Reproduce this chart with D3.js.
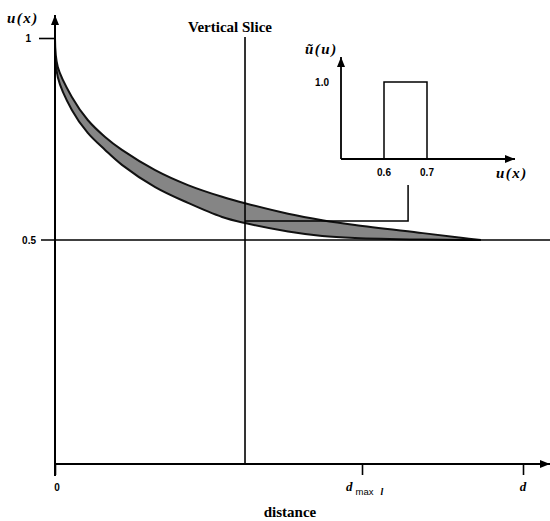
<!DOCTYPE html>
<html>
<head>
<meta charset="utf-8">
<script src="https://cdn.jsdelivr.net/npm/d3@7"></script>
<style>
  body { margin: 0; background: #fff; }
  .serif { font-family: "Liberation Serif", "DejaVu Serif", serif; font-weight: bold; }
  .num { font-family: "Liberation Sans", Arial, sans-serif; font-weight: bold; font-size: 10px; }
  .ital { font-family: "Liberation Serif", serif; font-weight: bold; font-style: italic; }
</style>
</head>
<body>
<svg id="chart" width="550" height="521"></svg>
<script>
// distance along the x axis (0 = origin, 1 = d) and the two bounds of u(x)
const distance = [0, 0.006, 0.036, 0.07, 0.107, 0.143, 0.214, 0.284, 0.357, 0.406, 0.498, 0.571, 0.641, 0.786, 0.872, 0.91];
const upperU = [1, 0.928, 0.854, 0.797, 0.755, 0.723, 0.673, 0.636, 0.607, 0.591, 0.565, 0.549, 0.537, 0.517, 0.505, 0.5];
const lowerU = [1, 0.903, 0.822, 0.765, 0.723, 0.686, 0.631, 0.592, 0.557, 0.542, 0.521, 0.51, 0.505, 0.501, 0.5, 0.5];
const yTicks = [1, 0.5];
const xTicks = [0, 0.656, 1];
const sliceAt = 0.406;
const dMax = 0.656;

// fuzzy membership of the slice: box between 0.6 and 0.7
const insetU = [0.6, 0.6, 0.7, 0.7];
const insetMu = [0, 1, 1, 0];
const insetTicks = [0.6, 0.7];

const svg = d3.select("#chart");
const left = 55, bottom = 464;

const x = d3.scaleLinear().domain([0, 1]).range([left, 523]);
const y = d3.scaleLinear().domain([0.5, 1]).range([240, 38]);

const defs = svg.append("defs");
defs.append("marker")
  .attr("id", "arrow")
  .attr("viewBox", "0 0 10 8")
  .attr("refX", 10).attr("refY", 4)
  .attr("markerWidth", 10).attr("markerHeight", 8)
  .attr("markerUnits", "userSpaceOnUse")
  .attr("orient", "auto")
  .append("path").attr("d", "M0,0L10,4L0,8Z").attr("fill", "#000");

// band of possible curves
const band = d3.area()
  .x((d, i) => x(distance[i]))
  .y0((d, i) => y(lowerU[i]))
  .y1((d, i) => y(upperU[i]))
  .curve(d3.curveCatmullRom.alpha(0.5));
svg.append("path")
  .attr("d", band(distance))
  .attr("fill", "#858585")
  .attr("stroke", "#111")
  .attr("stroke-width", 2);

// 0.5 level line
svg.append("line")
  .attr("x1", 41).attr("x2", 550)
  .attr("y1", y(0.5)).attr("y2", y(0.5))
  .attr("stroke", "#000").attr("stroke-width", 1.5);

// vertical slice
svg.append("line")
  .attr("x1", x(sliceAt)).attr("x2", x(sliceAt))
  .attr("y1", y(1) - 1).attr("y2", bottom)
  .attr("stroke", "#000").attr("stroke-width", 1.6);
svg.append("text").attr("class", "serif")
  .attr("x", x(sliceAt) - 15).attr("y", 32)
  .attr("text-anchor", "middle").attr("font-size", 15)
  .text("Vertical Slice");

// main axes
svg.append("line")
  .attr("x1", left).attr("x2", left).attr("y1", bottom + 12).attr("y2", 15)
  .attr("stroke", "#000").attr("stroke-width", 2).attr("marker-end", "url(#arrow)");
svg.append("line")
  .attr("x1", left).attr("x2", 550).attr("y1", bottom).attr("y2", bottom)
  .attr("stroke", "#000").attr("stroke-width", 2).attr("marker-end", "url(#arrow)");

const xAxis = d3.axisBottom(x).tickValues(xTicks).tickSize(11).tickFormat("");
const gx = svg.append("g").attr("transform", `translate(0,${bottom})`).call(xAxis);
gx.select(".domain").remove();
gx.selectAll(".tick line").attr("stroke-width", 1.6);

svg.append("text").attr("class", "num").attr("x", x(0) + 2).attr("y", 491)
  .attr("text-anchor", "middle").text("0");
const dm = svg.append("text").attr("class", "ital").attr("x", x(dMax) - 16).attr("y", 491).attr("font-size", 13);
dm.append("tspan").text("d");
dm.append("tspan").attr("dx", 3).attr("dy", 4).attr("font-style", "normal").attr("font-weight", "normal")
  .attr("font-family", "Liberation Sans, sans-serif").attr("font-size", 9.5).text("max");
dm.append("tspan").attr("dx", 7).attr("font-size", 10).text("l");
svg.append("text").attr("class", "ital").attr("x", x(1)).attr("y", 491)
  .attr("text-anchor", "middle").attr("font-size", 13).text("d");

svg.append("text").attr("class", "serif").attr("x", 290).attr("y", 517)
  .attr("text-anchor", "middle").attr("font-size", 15).text("distance");

const yAxis = d3.axisLeft(y).tickValues([yTicks[0]]).tickSize(16).tickFormat("");
const gy = svg.append("g").attr("transform", `translate(${left},0)`).call(yAxis);
gy.select(".domain").remove();
gy.selectAll(".tick line").attr("stroke-width", 1.6);
yTicks.forEach(t => {
  svg.append("text").attr("class", "num")
    .attr("x", t === 1 ? 31 : 36).attr("y", y(t) + 3.5)
    .attr("text-anchor", "end").text(t === 1 ? "1" : "0.5");
});
svg.append("text").attr("class", "ital").attr("x", 7).attr("y", 23)
  .attr("font-size", 15).attr("letter-spacing", 1.5).text("u(x)");

// inset: membership of the slice
const ix = d3.scaleLinear().domain([0.5, 0.7]).range([341, 427]);
const iy = d3.scaleLinear().domain([0, 1]).range([159, 82]);

svg.append("line")
  .attr("x1", ix(0.5)).attr("x2", ix(0.5)).attr("y1", iy(0)).attr("y2", 57)
  .attr("stroke", "#000").attr("stroke-width", 1.8).attr("marker-end", "url(#arrow)");
svg.append("line")
  .attr("x1", ix(0.5)).attr("x2", ix(0.9) + 2).attr("y1", iy(0)).attr("y2", iy(0))
  .attr("stroke", "#000").attr("stroke-width", 1.8).attr("marker-end", "url(#arrow)");

svg.append("path")
  .attr("d", d3.line().x((d, i) => ix(insetU[i])).y((d, i) => iy(insetMu[i]))(insetU))
  .attr("fill", "none").attr("stroke", "#000").attr("stroke-width", 1.5);

insetTicks.forEach(t => {
  svg.append("text").attr("class", "num").attr("x", ix(t)).attr("y", 176)
    .attr("text-anchor", "middle").text(t.toFixed(1));
});
svg.append("text").attr("class", "num").attr("x", 329).attr("y", iy(1) + 3.5)
  .attr("text-anchor", "end").text("1.0");
svg.append("text").attr("class", "ital").attr("x", 305).attr("y", 54)
  .attr("font-size", 15).attr("letter-spacing", 1.5).text("ũ(u)");
svg.append("text").attr("class", "ital").attr("x", 496).attr("y", 178)
  .attr("font-size", 15).attr("letter-spacing", 1.5).text("u(x)");

// connector from inset to slice
const connector = [[ix(0.656), 185], [ix(0.656), y(0.547)], [x(sliceAt), y(0.547)]];
svg.append("path")
  .attr("d", d3.line()(connector))
  .attr("fill", "none").attr("stroke", "#000").attr("stroke-width", 1.5);
</script>
</body>
</html>
